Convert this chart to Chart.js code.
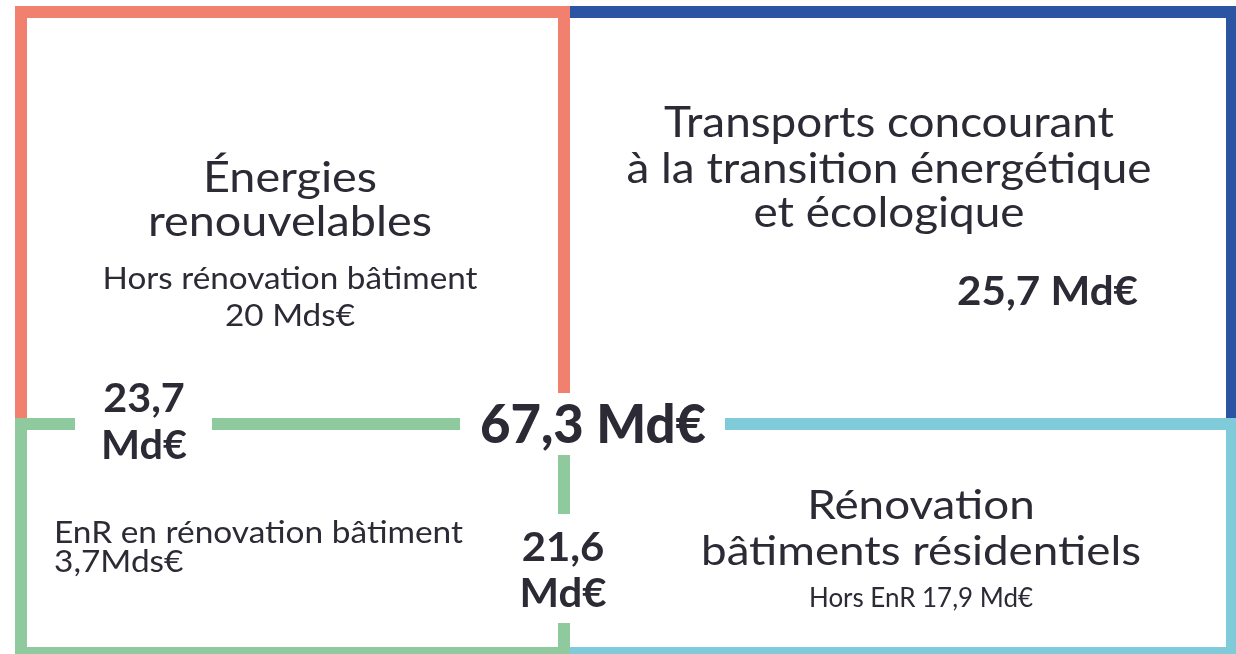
<!DOCTYPE html>
<html>
<head>
<meta charset="utf-8">
<script src="https://cdn.jsdelivr.net/npm/chart.js@4.4.1/dist/chart.umd.min.js"></script>
<style>
  html, body { margin: 0; padding: 0; background: #ffffff; }
  #wrap { width: 1236px; height: 654px; position: relative; }
</style>
</head>
<body>
<div id="wrap"><canvas id="c"></canvas></div>
<script>
// ---------- DATA ----------
const categories = ["Énergies renouvelables", "Transports concourant à la transition énergétique et écologique", "Rénovation bâtiments résidentiels"];
const categoryTotals = [23.7, 25.7, 21.6];          // Md€
const grandTotal = 67.3;                            // Md€
const renewablesExclBuilding = 20;                  // Mds€
const renewablesInBuilding = 3.7;                   // Mds€
const buildingExclRenewables = 17.9;                // Md€
const unitLabels = ["Md€", "Mds€"];

// ---------- LAYOUT (positions / styles only) ----------
const W = 1236, H = 654;
const gx = [21, 564, 1232];   // grid column lines (centre of strokes)
const gy = [12, 424, 653];    // grid row lines
const LINE_W = 12;
const colors = { coral: "#F2806F", blue: "#2B55A2", green: "#8FCA9F", cyan: "#80CBD9", text: "#2B2A35" };

const fmt = v => String(v).replace(".", ",");

// border polylines, built from the grid
const segments = [
  { color: colors.green, pts: [[75, gy[1]], [gx[0], gy[1]], [gx[0], gy[2]], [gx[1], gy[2]], [gx[1], 623]] },
  { color: colors.green, pts: [[212, gy[1]], [460, gy[1]]] },
  { color: colors.green, pts: [[gx[1], 455], [gx[1], 514]] },
  { color: colors.cyan,  pts: [[725, gy[1]], [gx[2], gy[1]], [gx[2], gy[2]], [gx[1], gy[2]]] },
  { color: colors.coral, pts: [[gx[0], gy[1] - 6], [gx[0], gy[0]], [gx[1], gy[0]], [gx[1], 393]] },
  { color: colors.blue,  pts: [[gx[1], gy[0]], [gx[2], gy[0]], [gx[2], gy[1] - 6]] }
];

// text blocks: align, anchor x, baselines, size, weight, width of widest line
const FONT = "Lato, 'Open Sans', sans-serif";
const textBlocks = [
  { lines: ["Énergies", "renouvelables"], align: "center", x: 290, ys: [192, 236], size: 42, weight: 400, width: 284 },
  { lines: ["Hors rénovation bâtiment", fmt(renewablesExclBuilding) + " " + unitLabels[1]], align: "center", x: 290, ys: [289, 326], size: 30, weight: 400, width: 375 },
  { lines: ["Transports concourant", "à la transition énergétique", "et écologique"], align: "center", x: 889, ys: [137, 183, 227], size: 42, weight: 400, width: 525 },
  { lines: [fmt(categoryTotals[1]) + " " + unitLabels[0]], align: "left", x: 957, ys: [305], size: 40, weight: 700, width: 181 },
  { lines: [fmt(grandTotal) + " " + unitLabels[0]], align: "left", x: 480, ys: [443], size: 53, weight: 900, width: 226 },
  { lines: [fmt(categoryTotals[0]), unitLabels[0]], align: "center", x: 144, ys: [412, 459], size: 40, weight: 700, width: 86 },
  { lines: ["EnR en rénovation bâtiment", fmt(renewablesInBuilding) + unitLabels[1]], align: "left", x: 54, ys: [543, 572], size: 30, weight: 400, width: 409 },
  { lines: [fmt(categoryTotals[2]), unitLabels[0]], align: "center", x: 563, ys: [561, 607], size: 40, weight: 700, width: 87 },
  { lines: ["Rénovation", "bâtiments résidentiels"], align: "center", x: 921, ys: [519, 565], size: 40, weight: 400, width: 440 },
  { lines: ["Hors EnR " + fmt(buildingExclRenewables) + " " + unitLabels[0]], align: "center", x: 921, ys: [607], size: 26, weight: 400, width: 224 }
];

const datasets = segments.map((s, i) => ({
  label: "border" + i,
  data: s.pts.map(p => ({ x: p[0], y: p[1] })),
  showLine: true,
  borderColor: s.color,
  backgroundColor: s.color,
  borderWidth: LINE_W,
  borderCapStyle: "butt",
  borderJoinStyle: "miter",
  pointRadius: 0,
  pointHoverRadius: 0,
  tension: 0,
  fill: false,
  clip: false,
  order: i
}));

const textPlugin = {
  id: "diagramText",
  afterDatasetsDraw(chart) {
    const ctx = chart.ctx;
    const xs = chart.scales.x, ys = chart.scales.y;
    ctx.save();
    ctx.fillStyle = colors.text;
    ctx.textBaseline = "alphabetic";
    textBlocks.forEach(b => {
      ctx.font = b.weight + " " + b.size + "px " + FONT;
      const widest = Math.max(...b.lines.map(l => ctx.measureText(l).width));
      const sx = b.width / widest;
      b.lines.forEach((line, i) => {
        const px = xs.getPixelForValue(b.x);
        const py = ys.getPixelForValue(b.ys[i]);
        const w = ctx.measureText(line).width * sx;
        const left = b.align === "center" ? px - w / 2 : px;
        ctx.save();
        ctx.translate(left, py);
        ctx.scale(sx, 1);
        ctx.textAlign = "left";
        ctx.fillText(line, 0, 0);
        ctx.restore();
      });
    });
    ctx.restore();
  }
};

new Chart(document.getElementById("c"), {
  type: "scatter",
  data: { datasets },
  options: {
    responsive: true,
    maintainAspectRatio: false,
    animation: false,
    layout: { padding: 0 },
    plugins: { legend: { display: false }, tooltip: { enabled: false } },
    events: [],
    scales: {
      x: { type: "linear", min: 0, max: W, display: false },
      y: { type: "linear", min: 0, max: H, reverse: true, display: false }
    }
  },
  plugins: [textPlugin]
});
</script>
</body>
</html>
